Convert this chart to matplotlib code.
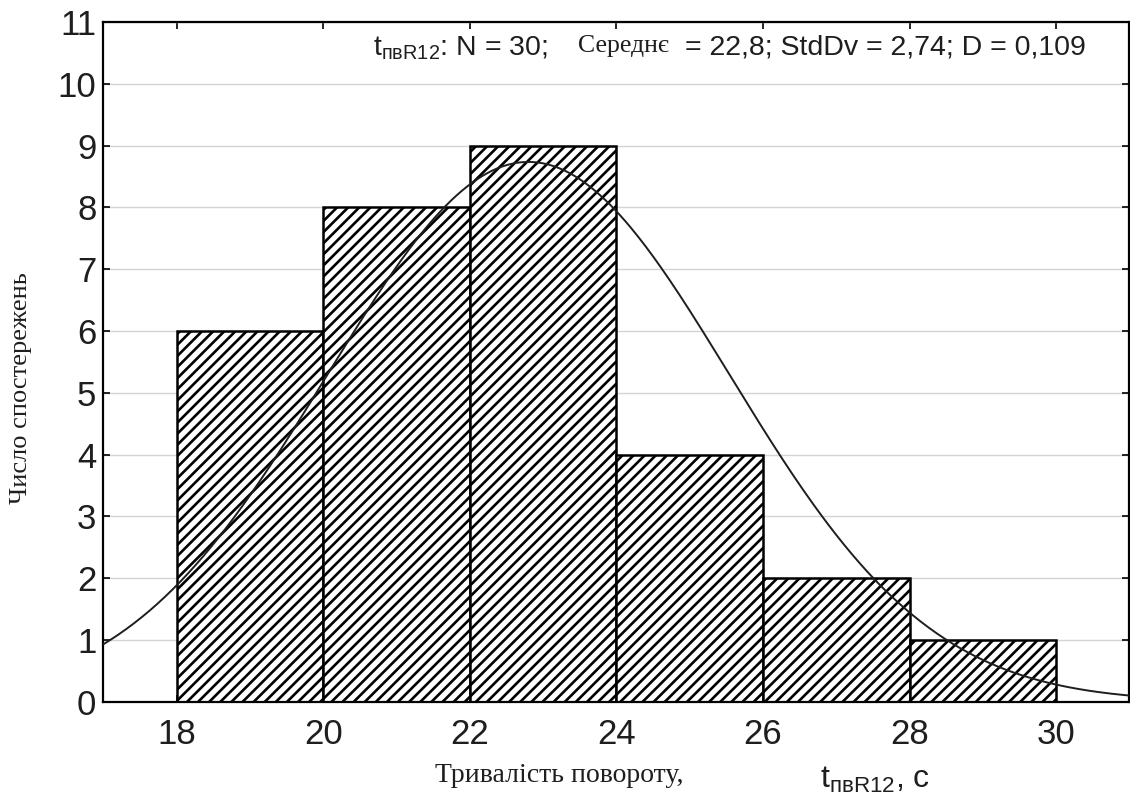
import numpy as np
import matplotlib.pyplot as plt

plt.rcParams['mathtext.fontset'] = 'custom'
plt.rcParams['mathtext.rm'] = 'Liberation Sans'
plt.rcParams['mathtext.it'] = 'Liberation Sans'
plt.rcParams['hatch.linewidth'] = 1.9

# histogram data
bin_edges = [18, 20, 22, 24, 26, 28, 30]
counts = [6, 8, 9, 4, 2, 1]
n_obs = 30
mean = 22.8
std = 2.74
x_ticks = [18, 20, 22, 24, 26, 28, 30]
y_ticks = list(range(0, 12))

sans = 'Liberation Sans'
serif = 'Liberation Serif'
ink = '#1e1e1e'

fig = plt.figure(figsize=(11.3, 8.01), dpi=100)
ax = fig.add_axes([0.0915, 0.124, 0.908, 0.8485])

widths = np.diff(bin_edges)
ax.bar(bin_edges[:-1], counts, width=widths, align='edge', facecolor='white',
       edgecolor='black', linewidth=1.8, hatch='///', zorder=2)

# fitted normal curve
bw = widths[0]
xs = np.linspace(17, 31, 400)
ys = n_obs * bw / (std * np.sqrt(2 * np.pi)) * np.exp(-(xs - mean) ** 2 / (2 * std ** 2))
ax.plot(xs, ys, color=ink, linewidth=1.4, zorder=3)

ax.set_xlim(17, 31)
ax.set_ylim(0, 11)
ax.set_xticks(x_ticks)
ax.set_yticks(y_ticks)
ax.yaxis.grid(True, color='#d4d4d4', linewidth=1.0)
ax.set_axisbelow(True)
ax.tick_params(direction='in', top=True, right=True, length=5, width=1.2,
               labelsize=25, labelcolor=ink)
ax.tick_params(axis='y', pad=5)
ax.tick_params(axis='x', pad=12)
for lab in ax.get_xticklabels() + ax.get_yticklabels():
    lab.set_family(sans)
for s in ax.spines.values():
    s.set_linewidth(1.6)

# stats annotation (mixed fonts)
ty = 1 - 48 / 801
fig.text(373 / 1130, ty, r'$\mathregular{t_{пвR12}}$: N = 30;', family=sans,
         fontsize=20.5, va='center', color=ink)
fig.text(578 / 1130, ty + 0.002, 'Середнє', family=serif, fontsize=18.5,
         va='center', color=ink)
fig.text(685 / 1130, ty, '= 22,8; StdDv = 2,74; D = 0,109', family=sans,
         fontsize=20.5, va='center', color=ink)

# axis labels
fig.text(21 / 1130, 1 - 388 / 801, 'Число спостережень', family=serif,
         fontsize=19, rotation=90, va='center', ha='center', color=ink)
fig.text(435 / 1130, 1 - 775 / 801, 'Тривалість повороту,', family=serif,
         fontsize=20, va='center', color=ink)
fig.text(820 / 1130, 1 - 780 / 801, r'$\mathregular{t_{пвR12}}$, с', family=sans,
         fontsize=23, va='center', color=ink)

fig.savefig('out.png', dpi=100)
